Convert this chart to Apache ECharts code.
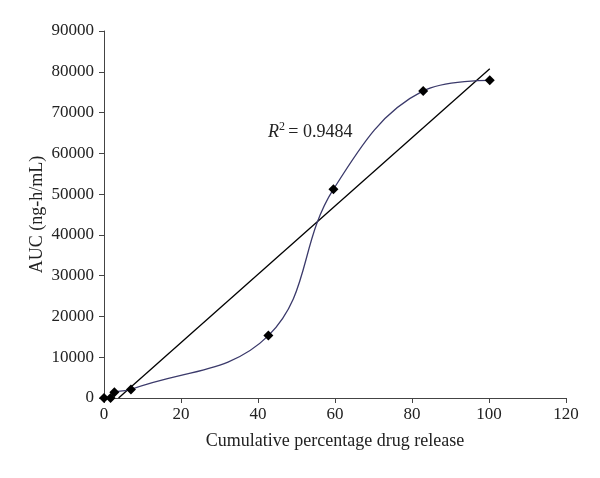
<!DOCTYPE html>
<html>
<head>
<meta charset="utf-8">
<script src="https://cdn.jsdelivr.net/npm/echarts@6/dist/echarts.min.js"></script>
<style>
  html, body { margin: 0; padding: 0; background: #fff; }
  #main { width: 600px; height: 478px; }
</style>
</head>
<body>
<div id="main"></div>
<script>
// cumulative % drug release vs AUC
var release = [0, 1.7, 2.7, 7.0, 42.7, 59.6, 82.9, 100.2];
var auc = [0, 0, 1400, 2100, 15300, 51200, 75300, 77900];
var r2Text = '0.9484';

// least squares fit for the trend line
function fit(xs, ys) {
  var n = xs.length, mx = 0, my = 0;
  for (var i = 0; i < n; i++) { mx += xs[i]; my += ys[i]; }
  mx /= n; my /= n;
  var sxy = 0, sxx = 0;
  for (var j = 0; j < n; j++) {
    sxy += (xs[j] - mx) * (ys[j] - my);
    sxx += (xs[j] - mx) * (xs[j] - mx);
  }
  var k = sxy / sxx;
  return { k: k, b: my - k * mx };
}
var f = fit(release, auc);
var x0 = -f.b / f.k; // where the line meets y = 0
var xEnd = release[release.length - 1];
var trend = [[x0, 0], [xEnd, f.k * xEnd + f.b]];

var points = release.map(function (x, i) { return [x, auc[i]]; });

var chart = echarts.init(document.getElementById('main'));
var font = 'Liberation Serif';

chart.setOption({
  animation: false,
  textStyle: { fontFamily: font },
  grid: { left: 104, right: 34, top: 31, bottom: 80 },
  xAxis: {
    type: 'value',
    min: 0, max: 120, interval: 20,
    name: 'Cumulative percentage drug release',
    nameLocation: 'middle',
    nameGap: 34,
    nameTextStyle: { fontFamily: font, fontSize: 18, color: '#222' },
    axisLine: { lineStyle: { color: '#444', width: 1 } },
    axisTick: { show: true, length: 5, lineStyle: { color: '#444' } },
    axisLabel: { fontFamily: font, fontSize: 17, color: '#222', margin: 8 },
    splitLine: { show: false }
  },
  yAxis: {
    type: 'value',
    min: 0, max: 90000, interval: 10000,
    name: 'AUC (ng-h/mL)',
    nameLocation: 'middle',
    nameRotate: 90,
    nameGap: 58,
    nameMoveOverlap: false,
    nameTextStyle: { fontFamily: font, fontSize: 18, color: '#222' },
    axisLine: { show: true, lineStyle: { color: '#444', width: 1 } },
    axisTick: { show: true, length: 5, lineStyle: { color: '#444' } },
    axisLabel: {
      fontFamily: font, fontSize: 17, color: '#222', margin: 10,
      formatter: function (v) { return String(v); }
    },
    splitLine: { show: false }
  },
  series: [
    {
      type: 'line',
      data: trend,
      symbol: 'none',
      clip: true,
      lineStyle: { color: '#000', width: 1.3 },
      z: 2
    },
    {
      type: 'line',
      data: points,
      smooth: 0.4,
      symbol: 'diamond',
      symbolSize: 10,
      itemStyle: { color: '#000' },
      lineStyle: { color: '#3b3a6b', width: 1.3 },
      z: 3
    }
  ],
  graphic: [
    {
      type: 'text',
      left: 268,
      top: 121,
      style: {
        text: '{i|R}{s|2} {n|= ' + r2Text + '}',
        rich: {
          i: { fontFamily: font, fontSize: 18, fontStyle: 'italic', fill: '#222' },
          s: { fontFamily: font, fontSize: 12, fill: '#222', verticalAlign: 'top', padding: [0, 0, 10, 0] },
          n: { fontFamily: font, fontSize: 18, fill: '#222' }
        }
      }
    }
  ]
});
</script>
</body>
</html>
